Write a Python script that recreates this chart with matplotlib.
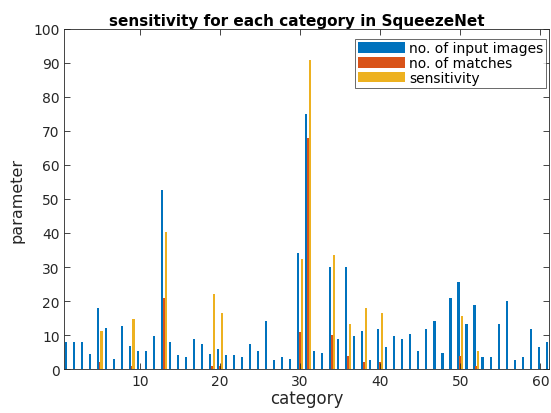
import matplotlib
matplotlib.use("Agg")
import matplotlib.pyplot as plt
import numpy as np

categories = list(range(1, 62))
input_images = [8, 8, 8, 4.5, 18, 12, 3, 12.6, 6.7, 5.2, 5.2, 9.7, 52.5, 8.1, 4.2, 3.5,
                8.9, 7.3, 4.5, 6, 4.2, 4.2, 3.5, 7.4, 5.2, 14.1, 2.8, 3.6, 2.9, 34, 75,
                5.2, 4.7, 30, 8.9, 30, 9.7, 11.1, 2.8, 11.9, 6.6, 9.7, 8.9, 10.4, 5.2,
                11.9, 14.2, 4.7, 21, 25.5, 13.4, 18.7, 3.6, 3.6, 13.4, 20.1, 2.8, 3.6,
                11.8, 6.5, 8]
matches = [0, 0, 0, 0, 2, 0, 0, 0, 1, 0, 0, 0, 21, 0, 0, 0, 0, 0, 1, 1, 0, 0, 0, 0,
           0, 0, 0, 0, 0, 11, 68, 0, 0, 10, 0, 4, 0, 2, 0, 2, 0, 0, 0, 0, 0, 0, 0, 0,
           0, 4, 0, 1, 0, 0, 0, 0, 0, 0, 0, 0, 0]
sensitivity = [0, 0, 0, 0, 11.1, 0, 0, 0, 14.8, 0, 0, 0, 40.2, 0, 0, 0, 0, 0, 22.2,
               16.6, 0, 0, 0, 0, 0, 0, 0, 0, 0, 32.4, 90.7, 0, 0, 33.5, 0, 13.3, 0,
               18.0, 0, 16.6, 0, 0, 0, 0, 0, 0, 0, 0, 0, 15.7, 0, 5.3, 0, 0, 0, 0, 0,
               0, 0, 0, 0]
series_names = ["no. of input images", "no. of matches", "sensitivity"]
colors = ["#0072BD", "#D95319", "#EDB120"]

plt.rcParams['font.family'] = ['DejaVu Sans']
fig = plt.figure(figsize=(5.51, 4.14), dpi=100)
ax = fig.add_axes([0.117, 0.106, 0.879, 0.822])

x = np.array(categories, dtype=float)
w = 0.26
off = 0.22
for i, (vals, name, c) in enumerate(zip([input_images, matches, sensitivity], series_names, colors)):
    ax.bar(x + (i - 1) * off, vals, width=w, color=c, label=name, linewidth=0)

ax.set_xlim(0.6, 61.05)
ax.set_ylim(0, 100)
ax.set_yticks(np.arange(0, 101, 10))
ax.set_xticks([10, 20, 30, 40, 50, 60])
ax.tick_params(direction='in', top=True, right=True, labelsize=10, length=4,
               width=0.6, color='#262626', labelcolor='#262626')
for s in ax.spines.values():
    s.set_linewidth(0.6)
    s.set_color('#262626')
ax.set_xlabel("category", fontsize=12, color='#262626', labelpad=1)
ax.set_ylabel("parameter", fontsize=11.5, color='#262626', labelpad=6)
ax.set_title("sensitivity for each category in SqueezeNet", fontsize=11,
             fontweight='bold', pad=3, x=0.48)
leg = ax.legend(loc='upper right', bbox_to_anchor=(0.994, 0.971), fontsize=10,
                frameon=True, fancybox=False,
                edgecolor='#262626', handlelength=3.4, handleheight=0.8,
                borderaxespad=0.0, borderpad=0.2, labelspacing=0.05,
                handletextpad=0.25)
leg.get_frame().set_linewidth(0.6)

fig.savefig("out.png", dpi=100)
